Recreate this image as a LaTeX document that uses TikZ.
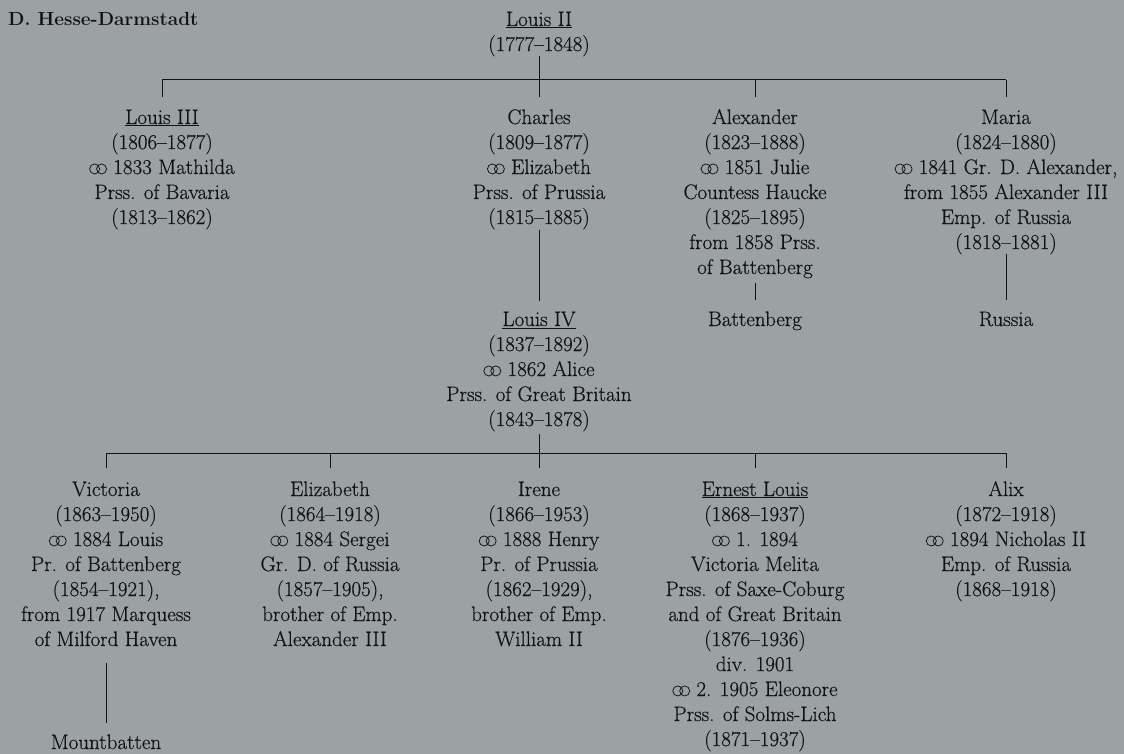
\documentclass[tikz,border=0pt]{standalone}
\usepackage{fontspec}
\newfontfamily\txtfont{Latin Modern Roman}[Ligatures=TeX,FakeBold=0.45]
\definecolor{bg}{RGB}{156,161,164}
\definecolor{ink}{RGB}{18,18,20}
\newcommand{\mrg}{\tikz[baseline=0pt,x=1pt,y=1pt]{\draw[ink,line width=0.75pt] (0.25em,0.24em) circle[radius=0.24em] (0.58em,0.24em) circle[radius=0.24em];}}
\tikzset{
  person/.style={anchor=base,align=center,inner sep=0pt,text=ink,font=\txtfont\fontsize{21}{25}\selectfont},
  title/.style={anchor=base west,inner sep=0pt,text=ink,font=\fontsize{19}{22}\selectfont\bfseries},
  link/.style={draw=ink,line width=1pt}
}
\begin{document}
\begin{tikzpicture}[x=1pt,y=-1pt]
\fill[bg] (0,0) rectangle (1124,754);
\useasboundingbox (0,0) rectangle (1124,754);
\node[title] (ttl) at (8,26) {D. Hesse-Darmstadt};
% generation 1 (positions give the baseline of the last line)
\node[person] (l2) at (539,51) {\underline{Louis II}\\(1777--1848)};
% generation 2
\node[person] (l3) at (162,224) {\underline{Louis III}\\(1806--1877)\\\mrg\ 1833 Mathilda\\Prss. of Bavaria\\(1813--1862)};
\node[person] (ch) at (539,224) {Charles\\(1809--1877)\\\mrg\ Elizabeth\\Prss. of Prussia\\(1815--1885)};
\node[person] (al) at (755,274) {Alexander\\(1823--1888)\\\mrg\ 1851 Julie\\Countess Haucke\\(1825--1895)\\from 1858 Prss.\\of Battenberg};
\node[person] (ma) at (1006,249) {Maria\\(1824--1880)\\\mrg\ 1841 Gr. D. Alexander,\\from 1855 Alexander III\\Emp. of Russia\\(1818--1881)};
\node[person] (l4) at (539,426) {\underline{Louis IV}\\(1837--1892)\\\mrg\ 1862 Alice\\Prss. of Great Britain\\(1843--1878)};
\node[person] (bt) at (755,326) {Battenberg};
\node[person] (ru) at (1006,326) {Russia};
% generation 3
\node[person] (vi) at (106,646) {Victoria\\(1863--1950)\\\mrg\ 1884 Louis\\Pr. of Battenberg\\(1854--1921),\\from 1917 Marquess\\of Milford Haven};
\node[person] (el) at (330,646) {Elizabeth\\(1864--1918)\\\mrg\ 1884 Sergei\\Gr. D. of Russia\\(1857--1905),\\brother of Emp.\\Alexander III};
\node[person] (ir) at (539,646) {Irene\\(1866--1953)\\\mrg\ 1888 Henry\\Pr. of Prussia\\(1862--1929),\\brother of Emp.\\William II};
\node[person] (er) at (755,746) {\underline{Ernest Louis}\\(1868--1937)\\\mrg\ 1. 1894\\Victoria Melita\\Prss. of Saxe-Coburg\\and of Great Britain\\(1876--1936)\\div. 1901\\\mrg\ 2. 1905 Eleonore\\Prss. of Solms-Lich\\(1871--1937)};
\node[person] (ax) at (1006,596) {Alix\\(1872--1918)\\\mrg\ 1894 Nicholas II\\Emp. of Russia\\(1868--1918)};
\node[person] (mb) at (106,749) {Mountbatten};
% connectors generation 1 -> 2
\coordinate (j1) at (539,80);
\draw[link] (l3.north |- j1) -- (ma.north |- j1);
\draw[link] (l2.south) -- ([yshift=12pt]ch.north);
\foreach \n in {l3,al,ma} \draw[link] (\n.north |- j1) -- ([yshift=12pt]\n.north);
% generation 2 -> descendants
\draw[link] ([yshift=-1pt]ch.south) -- ([yshift=10pt]l4.north);
\draw[link] ([yshift=-5pt]al.south) -- ([yshift=11pt]bt.north);
\draw[link] (ma.south) -- ([yshift=11pt]ru.north);
% connectors Louis IV -> generation 3
\coordinate (j2) at (539,453);
\draw[link] (vi.north |- j2) -- (ax.north |- j2);
\draw[link] ([yshift=-3pt]l4.south) -- ([yshift=13pt]ir.north);
\foreach \n in {vi,el,er,ax} \draw[link] (\n.north |- j2) -- ([yshift=13pt]\n.north);
\draw[link] ([yshift=-17pt]vi.south) -- ([yshift=11pt]mb.north);
\end{tikzpicture}
\end{document}
